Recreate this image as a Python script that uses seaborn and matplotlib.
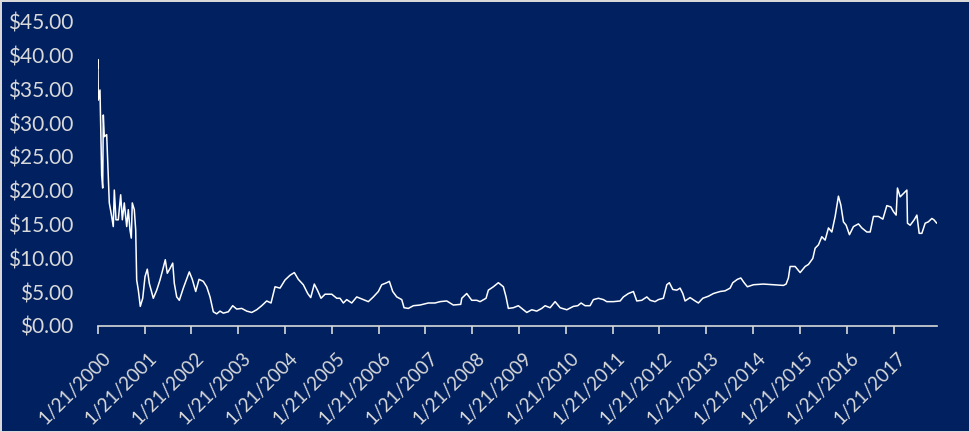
import pandas as pd
import matplotlib.pyplot as plt
import matplotlib.transforms as mtransforms
import seaborn as sns

# ── Data (time in decimal years) ─────────────────────────────
years = [
    2000.055, 2000.060, 2000.068, 2000.104, 2000.140, 2000.162, 2000.175, 2000.196,
    2000.247, 2000.281, 2000.303, 2000.354, 2000.388, 2000.410, 2000.446, 2000.495,
    2000.546, 2000.581, 2000.623, 2000.675, 2000.709, 2000.745, 2000.773, 2000.794,
    2000.837, 2000.867, 2000.888, 2000.923, 2000.965, 2001.017, 2001.066, 2001.115,
    2001.158, 2001.243, 2001.316, 2001.386, 2001.444, 2001.499, 2001.542, 2001.600,
    2001.658, 2001.692, 2001.743, 2001.799, 2001.884,
    2001.921, 2002.012, 2002.076, 2002.149, 2002.220, 2002.311, 2002.384, 2002.455,
    2002.525, 2002.598, 2002.668, 2002.739, 2002.846, 2002.939, 2003.025, 2003.132,
    2003.239, 2003.346, 2003.452, 2003.559, 2003.666, 2003.758, 2003.844, 2003.950,
    2004.057, 2004.164, 2004.256, 2004.341, 2004.448, 2004.542, 2004.606, 2004.683,
    2004.756, 2004.826, 2004.912, 2005.055, 2005.162,
    2005.232, 2005.303, 2005.375, 2005.482, 2005.589, 2005.730, 2005.837, 2005.944,
    2006.051, 2006.123, 2006.230, 2006.286, 2006.358, 2006.444, 2006.551, 2006.600,
    2006.692, 2006.799, 2006.942, 2007.119, 2007.262, 2007.369, 2007.512, 2007.653,
    2007.811, 2007.833, 2007.939, 2008.046, 2008.153, 2008.224, 2008.352, 2008.401,
    2008.508, 2008.615,
    2008.722, 2008.779, 2008.828, 2008.935, 2009.042, 2009.115, 2009.222, 2009.328,
    2009.435, 2009.542, 2009.613, 2009.720, 2009.827, 2009.934, 2010.077, 2010.218,
    2010.311, 2010.382, 2010.468, 2010.574, 2010.645, 2010.752, 2010.859, 2010.931,
    2011.072, 2011.216, 2011.286, 2011.393, 2011.500, 2011.572, 2011.679, 2011.786,
    2011.859, 2011.962, 2012.034, 2012.140, 2012.213, 2012.268, 2012.341, 2012.427,
    2012.497, 2012.555, 2012.604, 2012.711, 2012.818, 2012.888, 2012.982, 2013.102,
    2013.209, 2013.352, 2013.459, 2013.566, 2013.623, 2013.722, 2013.795, 2013.865,
    2013.935, 2014.064, 2014.277, 2014.491, 2014.705, 2014.762, 2014.811,
    2014.848, 2014.955, 2015.062, 2015.169, 2015.239, 2015.333, 2015.382, 2015.453,
    2015.525, 2015.596, 2015.667, 2015.739, 2015.810, 2015.880, 2015.931, 2015.987,
    2016.045, 2016.115, 2016.201, 2016.308, 2016.380, 2016.487, 2016.558, 2016.628,
    2016.735, 2016.829, 2016.914, 2017.000, 2017.056, 2017.113, 2017.141, 2017.199,
    2017.270, 2017.342, 2017.355, 2017.413, 2017.498, 2017.556, 2017.605, 2017.662,
    2017.733, 2017.800, 2017.876, 2017.921, 2017.980,
]
prices = [
    38.1, 39.4, 33.4, 34.9, 22.3, 20.4, 31.2, 28.0,
    28.3, 22.1, 18.2, 16.2, 14.7, 20.1, 15.7, 15.7,
    19.4, 15.7, 18.2, 14.7, 17.2, 14.2, 13.0, 18.2,
    17.2, 14.2, 6.8, 5.3, 2.9, 4.1, 7.3, 8.4,
    6.3, 4.1, 5.3, 6.8, 8.3, 9.8, 7.8, 8.5,
    9.3, 6.3, 4.3, 3.8, 5.6,
    6.3, 8.0, 6.9, 5.1, 6.9, 6.6, 5.8, 4.3,
    2.1, 1.8, 2.2, 1.9, 2.1, 3.0, 2.5, 2.6,
    2.2, 2.0, 2.4, 3.0, 3.7, 3.4, 5.8, 5.6,
    6.8, 7.5, 7.9, 6.9, 6.1, 4.8, 4.2, 6.2,
    5.2, 4.1, 4.7, 4.7, 4.1,
    4.1, 3.4, 3.9, 3.4, 4.3, 3.9, 3.6, 4.3,
    5.1, 6.1, 6.4, 6.6, 5.1, 4.3, 3.9, 2.7,
    2.6, 3.0, 3.1, 3.4, 3.4, 3.6, 3.7, 3.1,
    3.2, 4.1, 4.8, 3.8, 3.8, 3.6, 4.1, 5.3,
    5.8, 6.4,
    5.8, 4.3, 2.6, 2.7, 3.0, 2.6, 2.0, 2.4,
    2.2, 2.6, 3.0, 2.7, 3.6, 2.7, 2.4, 2.9,
    3.0, 3.4, 3.0, 3.0, 3.9, 4.1, 3.9, 3.6,
    3.6, 3.7, 4.3, 4.8, 5.1, 3.7, 3.8, 4.3,
    3.8, 3.6, 3.9, 4.1, 6.1, 6.4, 5.4, 5.3,
    5.6, 4.8, 3.7, 4.2, 3.7, 3.4, 4.1, 4.4,
    4.8, 5.1, 5.2, 5.6, 6.4, 6.9, 7.1, 6.4,
    5.8, 6.1, 6.2, 6.1, 6.0, 6.2, 7.1,
    8.8, 8.8, 7.9, 8.8, 9.1, 10.0, 11.5, 12.0,
    13.2, 12.7, 14.5, 13.9, 16.2, 19.2, 17.9, 15.4,
    14.9, 13.5, 14.7, 15.1, 14.5, 13.9, 13.9, 16.2,
    16.2, 15.8, 17.8, 17.6, 16.9, 16.4, 20.4, 19.1,
    19.6, 20.1, 15.2, 14.9, 15.7, 16.4, 13.7, 13.7,
    15.2, 15.4, 15.9, 15.7, 15.2,
]
tick_labels = [f'1/21/{y}' for y in range(2000, 2018)]
y_ticks = [0, 5, 10, 15, 20, 25, 30, 35, 40, 45]

NAVY = '#002060'
GREY = '#d9d9d9'

# ── Style ────────────────────────────────────────────────────
sns.set_theme(style='dark', rc={'axes.facecolor': NAVY, 'figure.facecolor': NAVY})
plt.rcParams['font.family'] = ['Lato', 'DejaVu Sans']

df = pd.DataFrame({'year': years, 'price': prices})
df['date'] = pd.Timestamp('2000-01-01') + pd.to_timedelta((df['year'] - 2000) * 365.25, unit='D')

fig, ax = plt.subplots(figsize=(9.7, 4.32), dpi=100)
fig.subplots_adjust(left=0.1007, right=0.9657, bottom=0.2454, top=0.9498)
sns.lineplot(data=df, x='date', y='price', ax=ax, color='white', linewidth=1.1)

ax.set_xlim(df['date'].min(), df['date'].max())
ax.set_ylim(0, 45)
ax.set_xticks(pd.to_datetime(tick_labels, format='%m/%d/%Y'))
ax.set_xticklabels(tick_labels, rotation=45, ha='right', va='top', rotation_mode='anchor')
ax.set_yticks(y_ticks)
ax.set_yticklabels([f'${v:.2f}' for v in y_ticks])
ax.set_xlabel('')
ax.set_ylabel('')
ax.grid(False)

for side in ['top', 'right', 'left']:
    ax.spines[side].set_visible(False)
ax.spines['bottom'].set_color(GREY)
ax.spines['bottom'].set_linewidth(1.2)

ax.tick_params(axis='x', bottom=True, length=6, width=1.2, color=GREY,
               labelcolor=GREY, labelsize=13.6, pad=11)
ax.tick_params(axis='y', left=False, length=0, labelcolor=GREY, labelsize=15, pad=17.5)

# nudge rotated date labels a little right, like the original
shift = mtransforms.ScaledTranslation(4 / 100, 0, fig.dpi_scale_trans)
for lab in ax.get_xticklabels():
    lab.set_transform(lab.get_transform() + shift)

fig.patch.set_edgecolor(GREY)
fig.patch.set_linewidth(2)
plt.savefig('out.png', facecolor=fig.get_facecolor(), edgecolor=fig.get_edgecolor())
